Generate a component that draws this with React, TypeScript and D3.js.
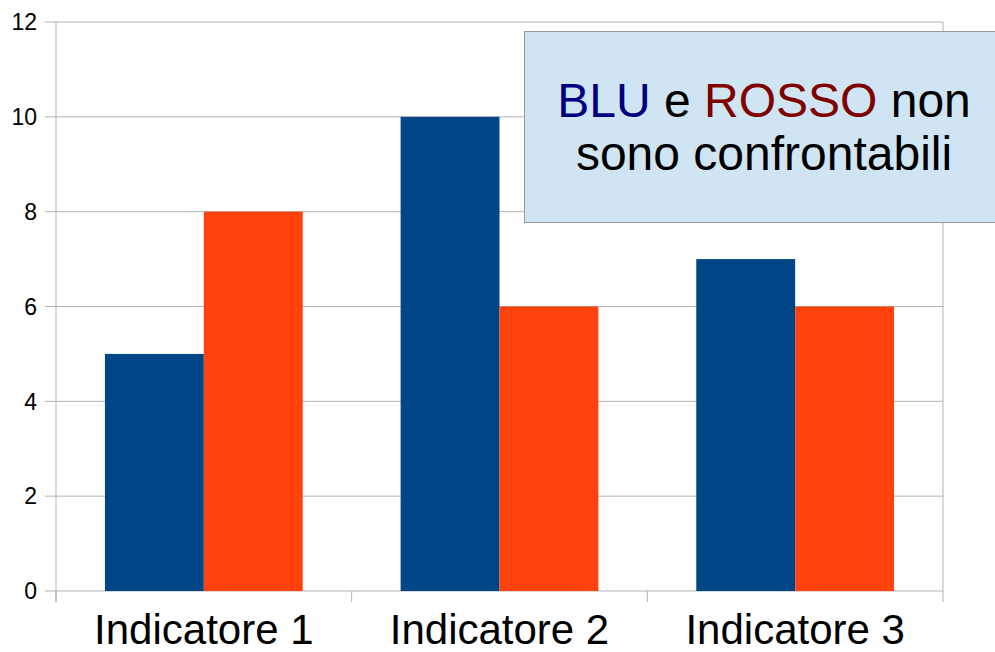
import React from "react";
import * as d3 from "d3";

const categories = ["Indicatore 1", "Indicatore 2", "Indicatore 3"];
const seriesNames = ["BLU", "ROSSO"];
const bluValues = [5, 10, 7];
const rossoValues = [8, 6, 6];
const yTicks = [0, 2, 4, 6, 8, 10, 12];
const seriesColors = ["#004586", "#ff420e"];

const W = 995;
const H = 652;
const M = { left: 56, right: 52, top: 22, bottom: 61 };

export default function App() {
  const x = d3
    .scaleBand<string>()
    .domain(categories)
    .range([M.left, W - M.right])
    .paddingInner(0)
    .paddingOuter(0);
  const inner = d3
    .scaleBand<string>()
    .domain(seriesNames)
    .range([0, x.bandwidth()])
    .paddingOuter(0.495)
    .paddingInner(0);
  const y = d3.scaleLinear().domain([0, 12]).range([H - M.bottom, M.top]);
  const series = [bluValues, rossoValues];
  const font = "'Liberation Sans', Arial, sans-serif";
  const grid = "#b3b3b3";
  const x0 = M.left;
  const x1 = W - M.right;
  const yb = y(0);

  return (
    <svg
      width={W}
      height={H}
      style={{ position: "absolute", left: 0, top: 0, background: "#fff" }}
      fontFamily={font}
    >
      {yTicks.map((t) => (
        <g key={t}>
          <line x1={x0 - 11} x2={x1} y1={y(t)} y2={y(t)} stroke={grid} strokeWidth={1} />
          <text x={37} y={y(t)} dy="0.36em" textAnchor="end" fontSize={23} fill="#000">
            {t}
          </text>
        </g>
      ))}
      <line x1={x0} x2={x0} y1={M.top} y2={yb + 11} stroke={grid} strokeWidth={1} />
      <line x1={x1} x2={x1} y1={M.top} y2={yb + 11} stroke={grid} strokeWidth={1} />
      {categories.map((c) => (
        <line key={c} x1={x(c)!} x2={x(c)!} y1={yb} y2={yb + 11} stroke={grid} strokeWidth={1} />
      ))}
      {categories.map((c, i) =>
        series.map((vals, s) => (
          <rect
            key={c + s}
            x={x(c)! + inner(seriesNames[s])!}
            y={y(vals[i])}
            width={inner.bandwidth()}
            height={yb - y(vals[i])}
            fill={seriesColors[s]}
          />
        ))
      )}
      {categories.map((c) => (
        <text
          key={c}
          x={x(c)! + x.bandwidth() / 2}
          y={644}
          textAnchor="middle"
          fontSize={42}
          fill="#000"
        >
          {c}
        </text>
      ))}
      <rect x={524.5} y={31.5} width={490} height={191} fill="#cfe5f3" stroke="#999999" strokeWidth={1} />
      <text x={764} y={117} textAnchor="middle" fontSize={48} fill="#000">
        <tspan fill="#000080">BLU</tspan>
        <tspan> e </tspan>
        <tspan fill="#800000">ROSSO</tspan>
        <tspan> non</tspan>
      </text>
      <text x={764} y={170} textAnchor="middle" fontSize={48} fill="#000">
        sono confrontabili
      </text>
    </svg>
  );
}
